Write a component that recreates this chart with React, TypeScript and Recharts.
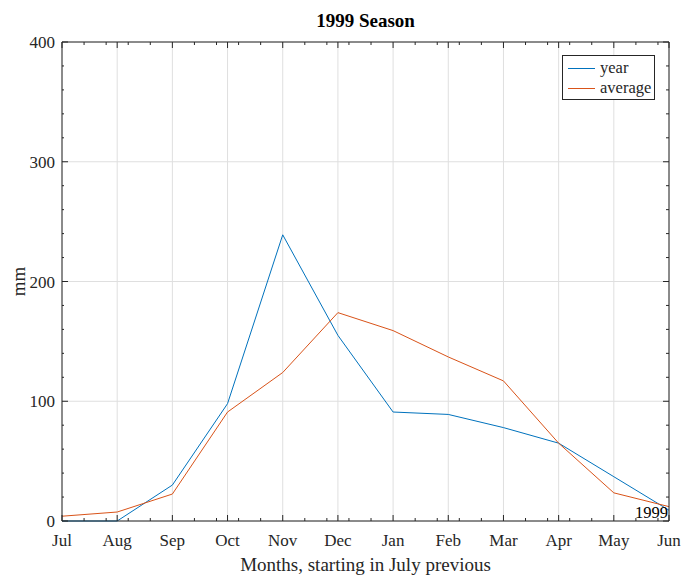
import React from "react";
import { CartesianGrid, Legend, Line, LineChart, ReferenceDot, XAxis, YAxis } from "recharts";

// months, starting in July of the previous year
const MONTHS = ["Jul", "Aug", "Sep", "Oct", "Nov", "Dec", "Jan", "Feb", "Mar", "Apr", "May", "Jun"];
// rainfall for the 1999 season (mm)
const YEAR = [0, 0, 30, 98, 239, 155, 91, 89, 78, 65, 37, 9];
// long term average (mm)
const AVERAGE = [4, 7.5, 22.5, 91, 124, 174, 159, 137, 117, 65, 23.5, 12];
const Y_TICKS = [0, 100, 200, 300, 400];
const SERIES = ["year", "average"];

const data = MONTHS.map((name, i) => ({ i, name, year: YEAR[i], average: AVERAGE[i] }));

// tick positions (MATLAB style: majors on months, minors every 0.4 month / 20 mm)
const X_MAJOR = MONTHS.map((_, i) => i);
const X_MINOR: number[] = [];
for (let k = 1; k * 0.4 < 11; k++) {
  const v = Math.round(k * 4) / 10;
  if (!Number.isInteger(v)) X_MINOR.push(v);
}
const Y_MINOR: number[] = [];
for (let v = 20; v < 400; v += 20) if (v % 100 !== 0) Y_MINOR.push(v);
const X_ALL = [...X_MAJOR, ...X_MINOR];
const Y_ALL = [...Y_TICKS, ...Y_MINOR];

const INK = "#262626";
const FONT = "'Liberation Serif', 'DejaVu Serif', serif";
const BLUE = "#0072BD";
const ORANGE = "#D95319";
const MAJOR = 6;
const MINOR = 3;

const BottomTick = (props: any) => {
  const { x, y, payload } = props;
  const isMajor = Number.isInteger(payload.value);
  return (
    <g>
      <line x1={x} y1={y} x2={x} y2={y - (isMajor ? MAJOR : MINOR)} stroke={INK} />
      {isMajor && (
        <text x={x} y={y + 25} textAnchor="middle" fontSize={17} fill={INK} fontFamily={FONT}>
          {MONTHS[payload.value]}
        </text>
      )}
    </g>
  );
};

const TopTick = (props: any) => {
  const { x, y, payload } = props;
  const len = Number.isInteger(payload.value) ? MAJOR : MINOR;
  return <line x1={x} y1={y} x2={x} y2={y + len} stroke={INK} />;
};

const LeftTick = (props: any) => {
  const { x, y, payload } = props;
  const isMajor = payload.value % 100 === 0;
  return (
    <g>
      <line x1={x} y1={y} x2={x + (isMajor ? MAJOR : 2)} y2={y} stroke={INK} />
      {isMajor && (
        <text x={x - 7} y={y + 6} textAnchor="end" fontSize={17} fill={INK} fontFamily={FONT}>
          {payload.value}
        </text>
      )}
    </g>
  );
};

const RightTick = (props: any) => {
  const { x, y, payload } = props;
  const len = payload.value % 100 === 0 ? MAJOR : MINOR;
  return <line x1={x} y1={y} x2={x - len} y2={y} stroke={INK} />;
};

const LegendBox = (props: any) => {
  const items = [...(props.payload || [])].sort(
    (a: any, b: any) => SERIES.indexOf(a.value) - SERIES.indexOf(b.value)
  );
  return (
    <div
      style={{
        width: 93,
        height: 45,
        boxSizing: "border-box",
        border: `1px solid ${INK}`,
        background: "#fff",
        fontFamily: FONT,
        fontSize: 16.5,
        color: INK,
        padding: "2px 0 0 5px",
      }}
    >
      {items.map((it: any) => (
        <div key={it.value} style={{ display: "flex", alignItems: "center", height: 20 }}>
          <span style={{ display: "inline-block", width: 27, height: 0, borderTop: `1px solid ${it.color}`, marginRight: 5 }} />
          <span style={{ lineHeight: "16px" }}>{it.value}</span>
        </div>
      ))}
    </div>
  );
};

export default function App() {
  return (
    <div style={{ position: "absolute", left: 0, top: 0, width: 685, height: 577, background: "#fff" }}>
      <LineChart width={685} height={577} data={data} margin={{ top: 41, right: 15, bottom: 0, left: 0 }}>
        <XAxis xAxisId="t" orientation="top" type="number" dataKey="i" domain={[0, 11]} ticks={X_ALL}
          interval={0} height={1} tickSize={0} tickMargin={0} tick={TopTick} axisLine={{ stroke: INK }} />
        <XAxis xAxisId="b" type="number" dataKey="i" domain={[0, 11]} ticks={X_ALL}
          interval={0} height={56} tickSize={0} tickMargin={0} tick={BottomTick} axisLine={{ stroke: INK }}
          label={{ value: "Months, starting in July previous", position: "insideBottom", offset: 6, fontSize: 19, fill: INK, fontFamily: FONT }} />
        <YAxis yAxisId="r" orientation="right" type="number" dataKey="year" domain={[0, 400]} ticks={Y_ALL}
          interval={0} width={1} tickSize={0} tickMargin={0} tick={RightTick} axisLine={{ stroke: INK }} />
        <YAxis yAxisId="l" type="number" domain={[0, 400]} ticks={Y_ALL}
          interval={0} width={62} tickSize={0} tickMargin={0} tick={LeftTick} axisLine={{ stroke: INK }}
          label={{ value: "mm", angle: -90, position: "insideLeft", offset: 18, fontSize: 19, fill: INK, fontFamily: FONT, style: { textAnchor: "middle" } }} />
        {/* hidden axes that only feed the major grid lines */}
        <XAxis xAxisId="g" type="number" dataKey="i" domain={[0, 11]} ticks={X_MAJOR} interval={0} height={0} hide />
        <YAxis yAxisId="g" type="number" dataKey="year" domain={[0, 400]} ticks={Y_TICKS} interval={0} width={0} hide />
        <CartesianGrid xAxisId="g" yAxisId="g" stroke="#dfdfdf" />
        <Line xAxisId="b" yAxisId="l" dataKey="year" name="year" stroke={BLUE} strokeWidth={1} dot={false} isAnimationActive={false} />
        <Line xAxisId="b" yAxisId="l" dataKey="average" name="average" stroke={ORANGE} strokeWidth={1} dot={false} isAnimationActive={false} />
        <ReferenceDot xAxisId="b" yAxisId="l" x={5.5} y={400} r={0} ifOverflow="visible"
          label={(p: any) => (
            <text x={p.viewBox.x} y={p.viewBox.y - 15} textAnchor="middle" fontSize={19} fontWeight="bold" fill="#000" style={{ fontFamily: FONT }}>
              1999 Season
            </text>
          )} />
        <ReferenceDot xAxisId="b" yAxisId="l" x={11} y={0} r={0} ifOverflow="visible"
          label={(p: any) => (
            <text x={p.viewBox.x - 1} y={p.viewBox.y - 3} textAnchor="end" fontSize={16.5} fill="#000" style={{ fontFamily: FONT }}>
              1999
            </text>
          )} />
        <Legend layout="vertical" align="center" verticalAlign="middle" content={LegendBox}
          wrapperStyle={{ left: 562, top: 55, width: 93, height: 45 }} />
      </LineChart>
    </div>
  );
}
